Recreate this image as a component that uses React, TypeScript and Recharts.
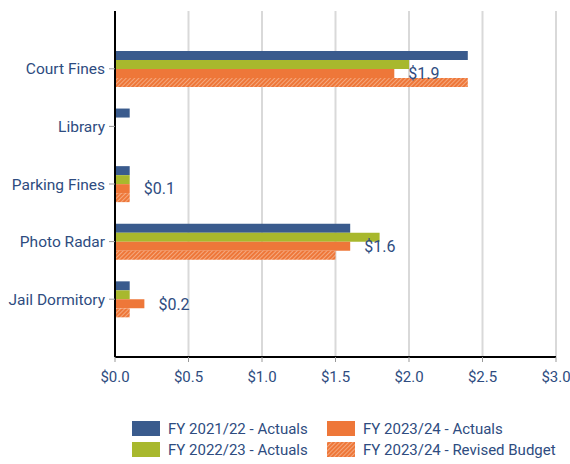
import React from 'react';
import {
  BarChart, Bar, XAxis, YAxis, CartesianGrid, Legend, LabelList,
} from 'recharts';

const categories = ['Court Fines', 'Library', 'Parking Fines', 'Photo Radar', 'Jail Dormitory'];
const fy2122Actuals = [2.4, 0.1, 0.1, 1.6, 0.1];
const fy2223Actuals = [2.0, null, 0.1, 1.8, 0.1];
const fy2324Actuals = [1.9, null, 0.1, 1.6, 0.2];
const fy2324Budget = [2.4, null, 0.1, 1.5, 0.1];
const xTicks = [0, 0.5, 1, 1.5, 2, 2.5, 3];

const TEXT = '#2E4C80';
const BLUE = '#3A5B8D';
const GREEN = '#A8B82D';
const ORANGE = '#EE7739';

const data = categories.map((name, i) => ({
  name,
  a2122: fy2122Actuals[i],
  a2223: fy2223Actuals[i],
  a2324: fy2324Actuals[i],
  b2324: fy2324Budget[i],
}));

// row-major order so the legend reads like the original 2x2 grid
const legendItems = [
  { label: 'FY 2021/22 - Actuals', fill: BLUE },
  { label: 'FY 2023/24 - Actuals', fill: ORANGE },
  { label: 'FY 2022/23 - Actuals', fill: GREEN },
  { label: 'FY 2023/24 - Revised Budget', fill: 'url(#hatch)' },
];

function LegendGrid() {
  return (
    <div style={{ display: 'grid', gridTemplateColumns: '195px 230px', rowGap: 6, paddingLeft: 132 }}>
      {legendItems.map(it => (
        <div key={it.label} style={{ display: 'flex', alignItems: 'center', height: 15 }}>
          <svg width={28} height={15} style={{ marginRight: 8 }}>
            <rect width={28} height={15} fill={it.fill} />
          </svg>
          <span style={{ color: TEXT, fontSize: 15, fontFamily: 'Roboto', whiteSpace: 'nowrap' }}>{it.label}</span>
        </div>
      ))}
    </div>
  );
}

export default function App() {
  return (
    <div style={{ position: 'absolute', left: 0, top: 0, fontFamily: 'Roboto' }}>
      <svg width={0} height={0} style={{ position: 'absolute' }}>
        <defs>
          <pattern id="hatch" width={3} height={3} patternUnits="userSpaceOnUse" patternTransform="rotate(45)">
            <rect width={3} height={3} fill={ORANGE} />
            <line x1={0} y1={0} x2={0} y2={3} stroke="#F9C9AC" strokeWidth={1.2} />
          </pattern>
        </defs>
      </svg>
      <BarChart
        width={570}
        height={464}
        data={data}
        layout="vertical"
        margin={{ top: 11, right: 14, left: 0, bottom: 0 }}
        barCategoryGap="19%"
        barGap={0}
      >
        <CartesianGrid horizontal={false} stroke="#D9D9D9" strokeWidth={2} />
        <XAxis
          type="number"
          domain={[0, 3]}
          ticks={xTicks}
          tickFormatter={(v: number) => `$${v.toFixed(1)}`}
          tick={{ fill: TEXT, fontSize: 15 }}
          axisLine={{ stroke: '#000', strokeWidth: 2 }}
          tickLine={{ stroke: '#999' }}
          tickSize={5}
          tickMargin={9}
          height={45}
        />
        <YAxis
          type="category"
          dataKey="name"
          width={115}
          padding={{ top: 29, bottom: 29 }}
          tick={{ fill: TEXT, fontSize: 15.5 }}
          axisLine={{ stroke: '#000', strokeWidth: 2 }}
          tickLine={{ stroke: '#999' }}
          tickSize={6}
          tickMargin={4}
        />
        <Legend verticalAlign="bottom" height={62} content={() => <LegendGrid />} wrapperStyle={{ top: 421, left: 0, width: 570 }} />
        <Bar dataKey="a2122" fill={BLUE} isAnimationActive={false} />
        <Bar dataKey="a2223" fill={GREEN} isAnimationActive={false} />
        <Bar dataKey="a2324" fill={ORANGE} isAnimationActive={false}>
          <LabelList
            dataKey="a2324"
            position="right"
            offset={14}
            fill={TEXT}
            fontSize={16}
            formatter={(v: any) => (v == null ? '' : `$${Number(v).toFixed(1)}`)}
          />
        </Bar>
        <Bar dataKey="b2324" fill="url(#hatch)" isAnimationActive={false} />
      </BarChart>
    </div>
  );
}
